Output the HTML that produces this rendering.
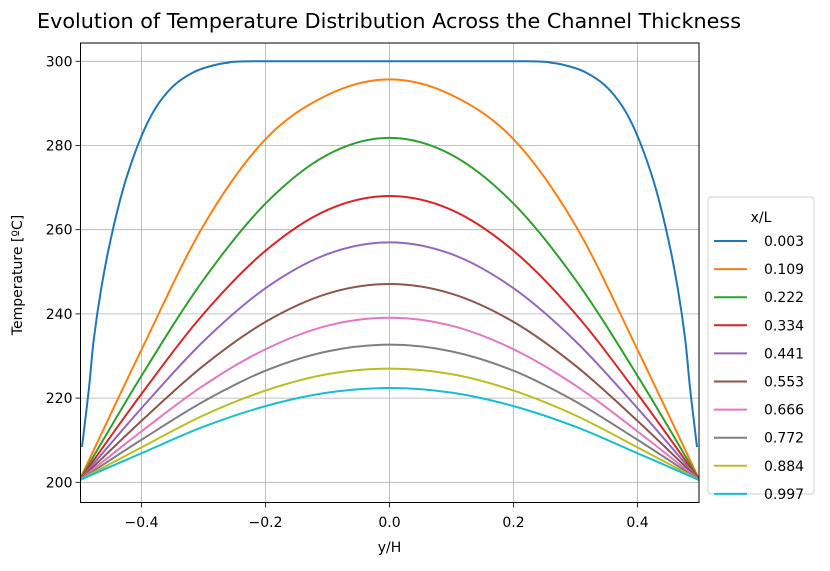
<!DOCTYPE html>
<html><head><meta charset="utf-8"><style>
body{margin:0;background:#fff;font-family:"DejaVu Sans","Liberation Sans",sans-serif}
svg text{font-family:"DejaVu Sans","Liberation Sans",sans-serif}
</style></head><body>
<svg id="c" width="830" height="567"></svg>
<script>
const xTicks=[-0.4,-0.2,0.0,0.2,0.4];
const xTickLabels=["−0.4","−0.2","0.0","0.2","0.4"];
const yTicks=[200,220,240,260,280,300];
const seriesNames=["0.003","0.109","0.222","0.334","0.441","0.553","0.666","0.772","0.884","0.997"];
const colors=["#1f77b4","#ff7f0e","#2ca02c","#d62728","#9467bd","#8c564b","#e377c2","#7f7f7f","#bcbd22","#17becf"];
const xFirst=[-0.496,-0.485,-0.477,-0.465,-0.45,-0.43,-0.41,-0.39,-0.37,-0.345,-0.316,-0.29,-0.264,-0.22,0,0.22,0.264,0.29,0.316,0.345,0.37,0.39,0.41,0.43,0.45,0.465,0.477,0.485,0.496];
const yFirst=[208.4,222,233.9,246,257.5,269.5,278.5,285.5,290.5,294.6,297.4,298.8,299.6,300,300,300,299.6,298.8,297.4,294.6,290.5,285.5,278.5,269.5,257.5,246,233.9,222,208.4];
const xGrid=[-0.5,-0.4,-0.3,-0.2,-0.1,0,0.1,0.2,0.3,0.4,0.5];
const s109=[200.5,231.5,261,281.5,292,295.7,292,281.5,261,231.5,200.5];
const s222=[200.5,225.3,248.1,266.2,277.8,281.8,277.8,266.2,248.1,225.3,200.5];
const s334=[200.5,221,240,255,264.7,268,264.7,255,240,221,200.5];
const s441=[200.5,217.6,233.5,246.1,254.2,257,254.2,246.1,233.5,217.6,200.5];
const s553=[200.5,214.6,227.7,238.1,244.8,247.1,244.8,238.1,227.7,214.6,200.5];
const s666=[200.5,212.1,223,231.6,237.2,239.1,237.2,231.6,223,212.1,200.5];
const s772=[200.5,210.1,219.2,226.5,231.1,232.7,231.1,226.5,219.2,210.1,200.5];
const s884=[200.5,208.3,215.9,221.8,225.7,227,225.7,221.8,215.9,208.3,200.5];
const s997=[200.5,206.9,213.2,218.1,221.3,222.4,221.3,218.1,213.2,206.9,200.5];

const L=80.5,R=699,T=43,B=502.5;
const X=v=>389.5+v*620;
const Y=v=>482.3-(v-200)*4.21;
const svg=document.getElementById('c');
const NS="http://www.w3.org/2000/svg";
function mk(tag,attrs,parent){const e=document.createElementNS(NS,tag);for(const k in attrs)e.setAttribute(k,attrs[k]);(parent||svg).appendChild(e);return e;}
function txt(s,attrs){const e=mk('text',attrs);e.textContent=s;return e;}
xTicks.forEach((v,i)=>{
 const g=mk('line',{x1:X(v),x2:X(v),y1:T,y2:B,stroke:'#b0b0b0','stroke-width':0.8});
 
 
 mk('line',{x1:X(v),x2:X(v),y1:B,y2:B+5,stroke:'#000','stroke-width':0.8});
 const t=txt(xTickLabels[i],{x:X(v),y:527,'text-anchor':'middle','font-size':14,fill:'#000'});
 
 
});
yTicks.forEach(v=>{
 const g=mk('line',{x1:L,x2:R,y1:Y(v),y2:Y(v),stroke:'#b0b0b0','stroke-width':0.8});
 
 
 mk('line',{x1:L-5,x2:L,y1:Y(v),y2:Y(v),stroke:'#000','stroke-width':0.8});
 const t=txt(String(v),{x:L-8,y:Y(v)+5,'text-anchor':'end','font-size':14,fill:'#000'});
 
 
});
function smooth(xs,ys){
 const p=xs.map((x,i)=>[X(x),Y(ys[i])]);
 let d=`M${p[0][0]},${p[0][1]}`;
 for(let i=0;i<p.length-1;i++){
  const p0=p[i-1]||p[i],p1=p[i],p2=p[i+1],p3=p[i+2]||p2;
  const c1=[p1[0]+(p2[0]-p0[0])/6,p1[1]+(p2[1]-p0[1])/6];
  const c2=[p2[0]-(p3[0]-p1[0])/6,p2[1]-(p3[1]-p1[1])/6];
  d+=` C${c1[0]},${c1[1]} ${c2[0]},${c2[1]} ${p2[0]},${p2[1]}`;
 }
 return d;
}
const all=[[xFirst,yFirst],[xGrid,s109],[xGrid,s222],[xGrid,s334],[xGrid,s441],[xGrid,s553],[xGrid,s666],[xGrid,s772],[xGrid,s884],[xGrid,s997]];
const clip=mk('clipPath',{id:'cp'});mk('rect',{x:L,y:T,width:R-L,height:B-T},clip);
all.forEach((s,i)=>{
 const p=mk('path',{d:smooth(s[0],s[1]),fill:'none',stroke:colors[i],'stroke-width':2,'clip-path':'url(#cp)'});
 
 
});
const fr=mk('rect',{x:L,y:T,width:R-L,height:B-T,fill:'none',stroke:'#000','stroke-width':1});


const ti=txt('Evolution of Temperature Distribution Across the Channel Thickness',{x:37,y:28,'font-size':20,fill:'#000',textLength:704,lengthAdjust:'spacingAndGlyphs'});


const xl=txt('y/H',{x:389.5,y:552,'text-anchor':'middle','font-size':14,fill:'#000'});


const yl=txt('Temperature [ºC]',{x:0,y:0,'text-anchor':'middle','font-size':14,fill:'#000',transform:'translate(22,275) rotate(-90)'});


const lg=mk('rect',{x:708,y:197,width:106,height:297,rx:3,fill:'#fff',stroke:'#d0d0d0'});


const lt=txt('x/L',{x:761,y:222,'text-anchor':'middle','font-size':14,fill:'#000'});


seriesNames.forEach((n,i)=>{
 const y=241+i*28.1;
 const l=mk('line',{x1:714,x2:747,y1:y,y2:y,stroke:colors[i],'stroke-width':2});
 
 
 const t=txt(n,{x:764,y:y+5,'font-size':14,fill:'#000'});
 
 
});
</script>
</body></html>
